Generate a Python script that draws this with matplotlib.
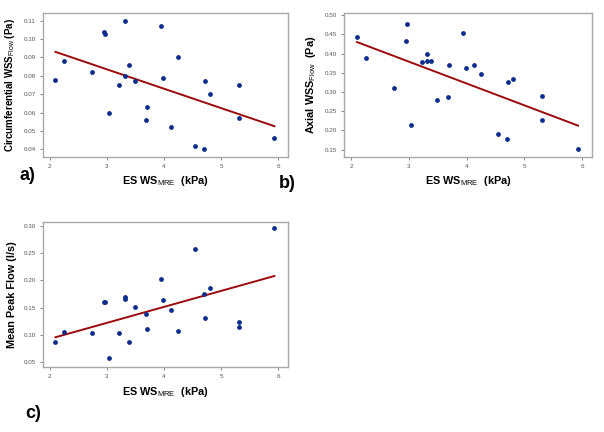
import numpy as np
import matplotlib
matplotlib.use('Agg')
from matplotlib import pyplot as plt

# ES WS_MRE (kPa), shared by all three panels
es_ws = [2.10, 2.25, 2.74, 2.95, 2.97, 3.03, 3.22, 3.31, 3.32, 3.38, 3.49, 3.68,
         3.70, 3.94, 3.98, 4.13, 4.25, 4.54, 4.70, 4.72, 4.80, 5.31, 5.31, 5.93]

circ_wss = [0.078, 0.088, 0.082, 0.104, 0.103, 0.060, 0.075, 0.110, 0.080, 0.086, 0.077, 0.056,
            0.063, 0.107, 0.079, 0.052, 0.090, 0.042, 0.040, 0.077, 0.070, 0.075, 0.057, 0.046]

axial_wss = [0.443, 0.388, 0.311, 0.433, 0.478, 0.213, 0.378, 0.400, 0.380, 0.380, 0.278, 0.286,
             0.371, 0.453, 0.363, 0.371, 0.347, 0.190, 0.177, 0.327, 0.335, 0.290, 0.228, 0.152]

peak_flow = [0.088, 0.106, 0.104, 0.161, 0.161, 0.057, 0.104, 0.170, 0.166, 0.087, 0.151, 0.139,
             0.111, 0.203, 0.165, 0.145, 0.108, 0.258, 0.175, 0.132, 0.187, 0.124, 0.114, 0.297]

plt.rcParams['font.family'] = ['Liberation Sans', 'DejaVu Sans']
plt.rcParams['mathtext.fontset'] = 'custom'
plt.rcParams['mathtext.rm'] = 'Liberation Sans'
plt.rcParams['mathtext.bf'] = 'Liberation Sans:bold'

XLABEL = r'ES WS$_{\mathrm{MRE}}$  (kPa)'


def panel(fig, rect, y, ylabel, yticks, ylim, fmt, ysize=7.8):
    ax = fig.add_axes(rect)
    x = np.array(es_ws)
    y = np.array(y)
    ax.scatter(x, y, s=12, color='#0b2d8c', zorder=3, linewidths=0)
    k, b = np.polyfit(x, y, 1)
    xs = np.array([x.min(), x.max()])
    ax.plot(xs, k * xs + b, color='#9b0a0a', lw=1.4, zorder=2)
    ax.set_xlim(1.88, 6.17)
    ax.set_ylim(*ylim)
    ax.set_xticks([2, 3, 4, 5, 6])
    ax.set_yticks(yticks)
    ax.set_yticklabels([fmt % v for v in yticks])
    ax.tick_params(labelsize=4.5, colors='#555555', length=2, width=0.5, pad=3)
    for s in ax.spines.values():
        s.set_color('#a8a8a8')
        s.set_linewidth(1.0)
    ax.set_xlabel(XLABEL, fontsize=7.8, fontweight='bold', labelpad=4)
    ax.set_ylabel(ylabel, fontsize=ysize, fontweight='bold', labelpad=5)
    return ax


def main():
    fig = plt.figure(figsize=(6.04, 4.32), dpi=100)

    panel(fig, [0.071, 0.637, 0.406, 0.333], circ_wss,
          r'Circumferential WSS$_{\mathrm{Flow}}$ (Pa)',
          [0.04, 0.05, 0.06, 0.07, 0.08, 0.09, 0.10, 0.11], (0.036, 0.1142), '%.2f',
          ysize=7.0)
    panel(fig, [0.570, 0.637, 0.410, 0.333], axial_wss,
          r'Axial WSS$_{\mathrm{Flow}}$  (Pa)',
          [0.15, 0.20, 0.25, 0.30, 0.35, 0.40, 0.45, 0.50], (0.131, 0.506), '%.2f')
    panel(fig, [0.071, 0.150, 0.406, 0.336], peak_flow,
          'Mean Peak Flow (l/s)',
          [0.05, 0.10, 0.15, 0.20, 0.25, 0.30], (0.041, 0.307), '%.2f')

    fig.text(20 / 604, 1 - 176 / 432, 'a)', fontsize=13, fontweight='bold', va='center')
    fig.text(279 / 604, 1 - 184 / 432, 'b)', fontsize=13, fontweight='bold', va='center')
    fig.text(25 / 604, 1 - 413 / 432, 'c)', fontsize=13, fontweight='bold', va='center')

    fig.savefig('out.png', dpi=100)


if __name__ == '__main__':
    main()
